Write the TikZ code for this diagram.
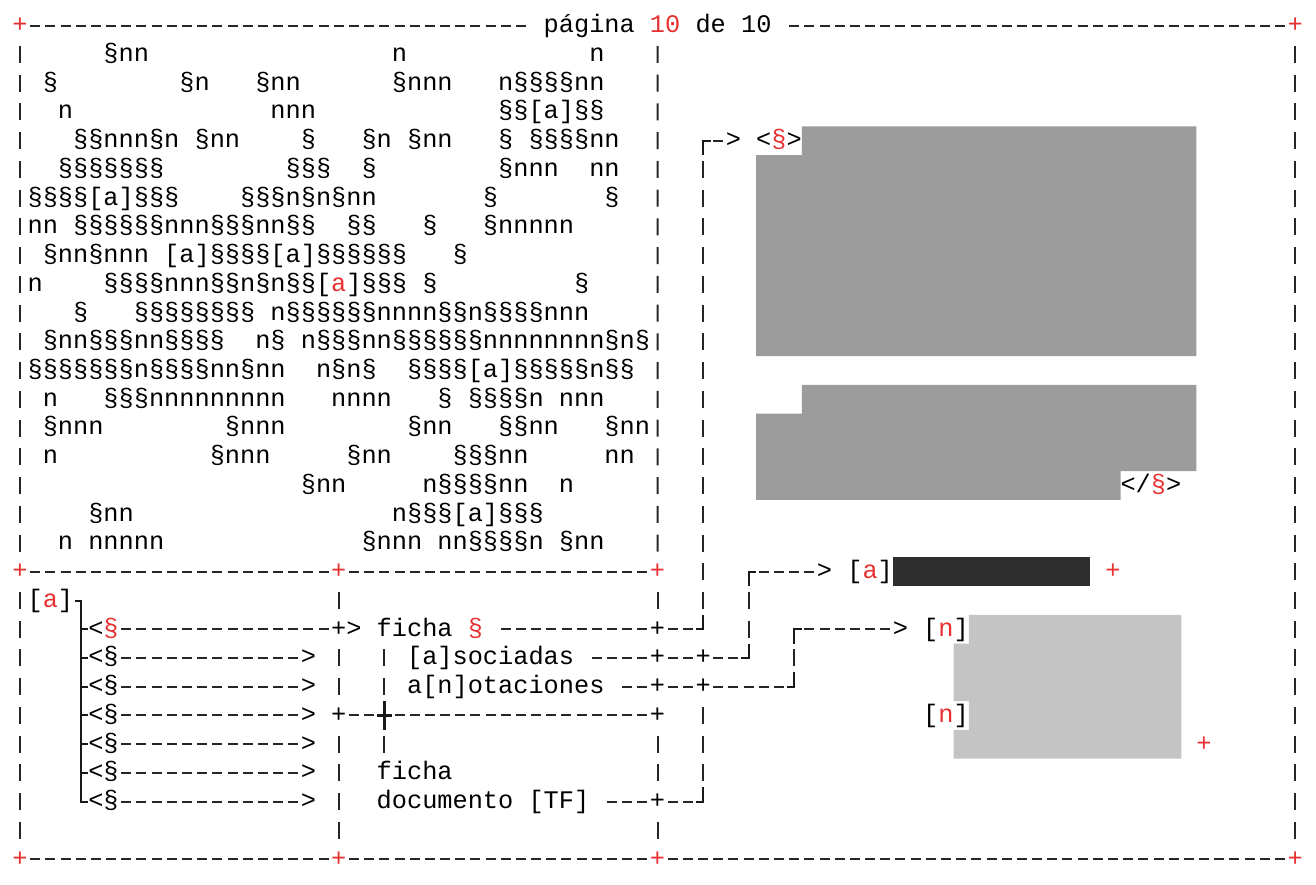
\documentclass[tikz,border=0pt]{standalone}
\usepackage{fontspec}
\setmonofont{Liberation Mono}
\usepackage{tikz}
\definecolor{rojoFicha}{RGB}{232,48,48}
\definecolor{grisBloque}{RGB}{156,156,156}
\definecolor{grisPuntos}{RGB}{196,196,196}
\definecolor{negroBloque}{RGB}{45,45,45}
\def\cw{7.59pt}

\begin{document}
\begin{tikzpicture}[x=7.59pt,y=-14.37pt,
  font=\fontsize{12.65pt}{14.37pt}\selectfont\ttfamily,
  txt/.style={inner sep=0pt,outer sep=0pt,anchor=west,
              text height=10.635pt,text depth=3.735pt},
  mas/.style={txt,text=rojoFicha},
  guion/.style={black!85,line width=1pt,dash pattern=on 5pt off 2.59pt,dash phase=6.295pt},
  barra/.style={black!85,line width=1pt,dash pattern=on 8.5pt off 5.87pt,dash phase=11.435pt},
  caja/.style={black!90,line width=1pt}]
  \useasboundingbox (-0.8175,-0.894) rectangle (85.875,29.865);

  % Marco de la pagina
  \node[mas] (tl) at (0,0) {+};
  \node[mas] (tr) at (84,0) {+};
  \node[txt] (pag) at (35,0) {página~\textcolor{rojoFicha}{10}~de~10};
  \node[mas] (ml) at (0,19) {+};
  \node[mas] (mm) at (21,19) {+};
  \node[mas] (mr) at (42,19) {+};
  \node[mas] (bl) at (0,29) {+};
  \node[mas] (bm) at (21,29) {+};
  \node[mas] (bmr) at (42,29) {+};
  \node[mas] (br) at (84,29) {+};
  \coordinate (t42) at (42.5,0.5);
  \draw[guion] (tl.east) -- ([xshift=-\cw]pag.west);
  \draw[guion] ([xshift=\cw]pag.east) -- (tr.west);
  \draw[guion] (ml.east) -- (mm.west);
  \draw[guion] (mm.east) -- (mr.west);
  \draw[guion] (bl.east) -- (bm.west);
  \draw[guion] (bm.east) -- (bmr.west);
  \draw[guion] (bmr.east) -- (br.west);
  \draw[barra] (tl.south) -- (ml.north);
  \draw[barra] (ml.south) -- (bl.north);
  \draw[barra] (tr.south) -- (br.north);
  \draw[barra] (t42) -- (mr.north);

  % Texto del panel superior
  \foreach \cx/\ry/\tx in {
    6/1/§nn, 25/1/n, 38/1/n,
    2/2/§, 11/2/§n, 16/2/§nn, 25/2/§nnn, 32/2/n§§§§nn,
    3/3/n, 17/3/nnn, 32/3/§§[a]§§,
    4/4/§§nnn§n, 12/4/§nn, 19/4/§, 23/4/§n, 26/4/§nn, 32/4/§, 34/4/§§§§nn,
    3/5/§§§§§§§, 18/5/§§§, 23/5/§, 32/5/§nnn, 38/5/nn,
    1/6/§§§§[a]§§§, 15/6/§§§n§n§nn, 31/6/§, 39/6/§,
    1/7/nn, 4/7/§§§§§§nnn§§§nn§§, 22/7/§§, 27/7/§, 31/7/§nnnnn,
    2/8/§nn§nnn, 10/8/[a]§§§§[a]§§§§§§, 29/8/§,
    1/9/n, 6/9/§§§§nnn§§n§n§§[\textcolor{rojoFicha}{a}]§§§, 27/9/§, 37/9/§,
    4/10/§, 8/10/§§§§§§§§, 17/10/n§§§§§§nnnn§§n§§§§nnn,
    2/11/§nn§§§nn§§§§, 16/11/n§, 19/11/n§§§nn§§§§§§nnnnnnnn§n§,
    1/12/§§§§§§§n§§§§nn§nn, 20/12/n§n§, 26/12/§§§§[a]§§§§§n§§,
    2/13/n, 6/13/§§§nnnnnnnnn, 21/13/nnnn, 28/13/§, 30/13/§§§§n, 36/13/nnn,
    2/14/§nnn, 14/14/§nnn, 26/14/§nn, 32/14/§§nn, 39/14/§nn,
    2/15/n, 13/15/§nnn, 22/15/§nn, 29/15/§§§nn, 39/15/nn,
    19/16/§nn, 27/16/n§§§§nn, 36/16/n,
    5/17/§nn, 25/17/n§§§[a]§§§,
    3/18/n, 5/18/nnnnn, 23/18/§nnn, 28/18/nn§§§§n, 36/18/§nn}
    \node[txt] (w\cx-\ry) at (\cx,\ry) {\tx};

  % Arbol de la izquierda
  \node[txt] (raiz) at (1,20) {[\textcolor{rojoFicha}{a}]};
  \draw[caja] (4.1,20) -- (4.5,20) -- (4.5,27) -- (5,27);
  \foreach \ry in {21,...,26}
    \draw[caja] (4.5,\ry) -- (5,\ry);
  \node[txt] (s21) at (5,21) {<\textcolor{rojoFicha}{§}};
  \node[txt] (j21a) at (21,21) {+};
  \node[txt] (h21) at (22,21) {>};
  \draw[guion] (s21.east) -- (j21a.west);
  \foreach \ry in {22,...,27}{
    \node[txt] (s\ry) at (5,\ry) {<§};
    \node[txt] (h\ry) at (19,\ry) {>};
    \draw[guion] (s\ry.east) -- (h\ry.west);
  }
  \node[txt] (j21b) at (21,24) {+};
  \draw[barra] (mm.south) -- (j21a.north);
  \draw[barra] (j21a.south) -- (j21b.north);
  \draw[barra] (j21b.south) -- (bm.north);

  % Fichas del centro
  \node[txt] (ficha) at (24,21) {ficha~\textcolor{rojoFicha}{§}};
  \node[txt] (asoc) at (26,22) {[a]sociadas};
  \node[txt] (anot) at (26,23) {a[n]otaciones};
  \node[txt] (fdoc) at (24,26) {ficha};
  \node[txt] (doc) at (24,27) {documento~[TF]};
  \node[txt] (cruz) at (24,24) {\phantom{+}};
  \draw[barra] (ficha.south -| cruz) -- (cruz.north);
  \draw[barra] (cruz.south) -- (fdoc.north -| cruz);
  \draw[caja,line width=1.2pt] (cruz.west) -- (cruz.east) (cruz.north) -- (cruz.south);
  \node[txt] (j42a) at (42,21) {+};
  \node[txt] (j42b) at (42,22) {+};
  \node[txt] (j42c) at (42,23) {+};
  \node[txt] (j42d) at (42,24) {+};
  \node[txt] (j42e) at (42,27) {+};
  \draw[barra] (mr.south) -- (j42a.north);
  \draw[barra] (j42d.south) -- (j42e.north);
  \draw[barra] (j42e.south) -- (bmr.north);
  \draw[guion] (j21b.east) -- (cruz.west);
  \draw[guion] (cruz.east) -- (j42d.west);

  % Conectores hacia la derecha
  \node[txt] (k4) at (45,4) {\phantom{+}};
  \node[txt] (k21) at (45,21) {\phantom{+}};
  \node[txt] (j45a) at (45,22) {+};
  \node[txt] (j45b) at (45,23) {+};
  \node[txt] (k27) at (45,27) {\phantom{+}};
  \node[txt] (k19) at (48,19) {\phantom{+}};
  \node[txt] (k22) at (48,22) {\phantom{+}};
  \node[txt] (k21b) at (51,21) {\phantom{+}};
  \node[txt] (k23) at (51,23) {\phantom{+}};
  \draw[caja] (k4.east) -- (k4.center) -- (k4.south);
  \draw[caja] (k19.east) -- (k19.center) -- (k19.south);
  \draw[caja] (k21b.east) -- (k21b.center) -- (k21b.south);
  \draw[caja] (k21.west) -- (k21.center) -- (k21.north);
  \draw[caja] (k22.west) -- (k22.center) -- (k22.north);
  \draw[caja] (k23.west) -- (k23.center) -- (k23.north);
  \draw[caja] (k27.west) -- (k27.center) -- (k27.north);
  \draw[barra] (k4.south) -- (k21.north);
  \draw[barra] (j45b.south) -- (k27.north);
  \draw[barra] (k19.south) -- (k22.north);
  \draw[barra] (k21b.south) -- (k23.north);
  \draw[guion] ([xshift=\cw]ficha.east) -- (j42a.west);
  \draw[guion] (j42a.east) -- (k21.west);
  \draw[guion] ([xshift=\cw]asoc.east) -- (j42b.west);
  \draw[guion] (j42b.east) -- (j45a.west);
  \draw[guion] (j45a.east) -- (k22.west);
  \draw[guion] ([xshift=\cw]anot.east) -- (j42c.west);
  \draw[guion] (j42c.east) -- (j45b.west);
  \draw[guion] (j45b.east) -- (k23.west);
  \draw[guion] ([xshift=\cw]doc.east) -- (j42e.west);
  \draw[guion] (j42e.east) -- (k27.west);

  % Destinos
  \node[txt] (a4) at (47,4) {>};
  \node[txt] (tag4) at (49,4) {<\textcolor{rojoFicha}{§}>};
  \node[txt] (tag16) at (73,16) {</\textcolor{rojoFicha}{§}>};
  \node[txt] (a19) at (53,19) {>};
  \node[txt] (ref19) at (55,19) {[\textcolor{rojoFicha}{a}]};
  \node[mas] (fin19) at (72,19) {+};
  \node[txt] (a21) at (58,21) {>};
  \node[txt] (ref21) at (60,21) {[\textcolor{rojoFicha}{n}]};
  \node[txt] (ref24) at (60,24) {[\textcolor{rojoFicha}{n}]};
  \node[mas] (fin25) at (78,25) {+};
  \draw[guion] (k4.east) -- (a4.west);
  \draw[guion] (k19.east) -- (a19.west);
  \draw[guion] (k21b.east) -- (a21.west);

  % Bloques tapados
  \fill[grisBloque] (52,3.5) -- (78,3.5) -- (78,11.5) -- (49,11.5)
    -- (49,4.5) -- (52,4.5) -- cycle;
  \fill[grisBloque] (52,12.5) -- (78,12.5) -- (78,15.5) -- (73,15.5)
    -- (73,16.5) -- (49,16.5) -- (49,13.5) -- (52,13.5) -- cycle;
  \fill[negroBloque] (58,18.5) rectangle (71,19.5);
  \fill[grisPuntos] (63,20.5) -- (77,20.5) -- (77,25.5) -- (62,25.5)
    -- (62,24.5) -- (63,24.5) -- (63,23.5) -- (62,23.5)
    -- (62,21.5) -- (63,21.5) -- cycle;
\end{tikzpicture}
\end{document}
